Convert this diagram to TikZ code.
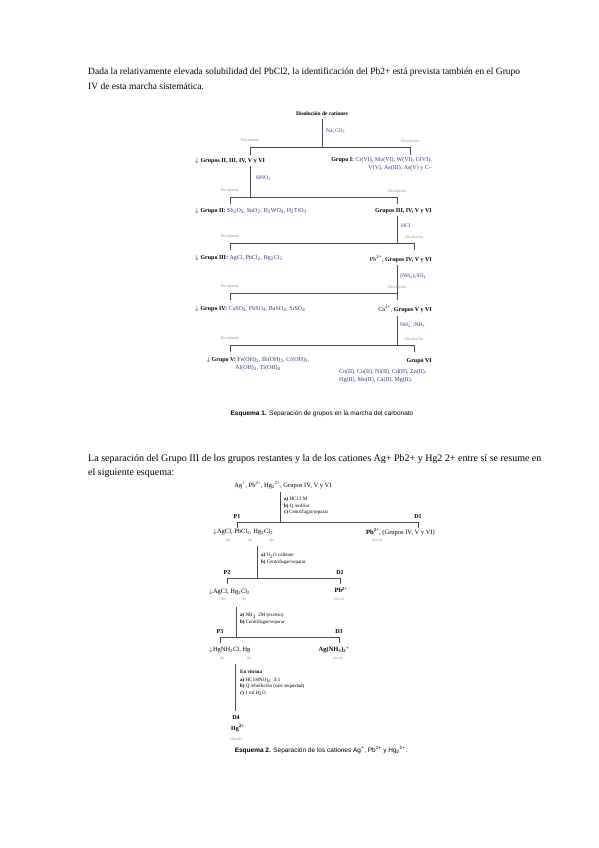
\documentclass[tikz,border=0pt]{standalone}
\usepackage{fontspec}
\setmainfont{Liberation Serif}
\newfontfamily\capfont{Liberation Sans}
\usepackage{tikz}
\usetikzlibrary{calc,positioning}
\definecolor{schblue}{HTML}{2B3B86}
\definecolor{schgray}{HTML}{8A8A8A}
\definecolor{schline}{HTML}{4A4A4A}
\newcommand{\fsz}[2]{\fontsize{#1}{#2}\selectfont}
\newcommand{\chsub}[1]{\textsubscript{#1}}
\newcommand{\chsup}[1]{\textsuperscript{#1}}

\begin{document}
\begin{tikzpicture}[x=1pt, y=-1pt,
    every node/.style={inner sep=0pt},
    bodytxt/.style={anchor=west, font=\fsz{9.5}{11}},
    s1txt/.style={font=\fsz{6}{8}},
    s1tag/.style={font=\fsz{4}{5}, text=schgray},
    s1reag/.style={anchor=west, font=\fsz{5.5}{6}, text=schblue},
    s2txt/.style={font=\fsz{6.5}{8}},
    s2reag/.style={anchor=north west, align=left, font=\fsz{5}{6.5}},
    s2tag/.style={font=\bfseries\fsz{6}{7}},
    s2note/.style={font=\fsz{3.8}{4.5}, text=schgray},
    captxt/.style={font=\capfont\fsz{6.5}{8}},
    tree/.style={draw=schline, line width=0.9pt}]
  \fill[white] (0,0) rectangle (599,848);
  \useasboundingbox (0,0) rectangle (599,848);

  % texto
  \node[bodytxt] (par1a) at (88,72) {Dada la relativamente elevada solubilidad del PbCl2, la identificación del Pb2+ está prevista también en el Grupo};
  \node[bodytxt] (par1b) at (88,86) {IV de esta marcha sistemática.};

  % esquema 1
  \node[s1txt, font=\bfseries\fsz{5.5}{7}] (s1dis) at (322,114) {Disolución de cationes};
  \coordinate (s1h1l) at (250,147);
  \coordinate (s1h1r) at (410,147);
  \draw[tree] ([yshift=-3pt]s1dis.south) -- (s1dis.south |- s1h1l);
  \draw[tree] ($(s1h1l)+(0,8)$) -- (s1h1l) -- (s1h1r) -- ($(s1h1r)+(0,8)$);
  \node[s1reag] (s1r1) at (326,131) {Na\chsub{2}CO\chsub{3}};
  \node[s1tag, above=4pt of s1h1l] (s1p1) {Precipitado};
  \node[s1tag, above=4pt of s1h1r] (s1d1) {Disolución};

  \node[s1txt, anchor=west] (s1g2) at (195,161) {$\downarrow$ \textbf{Grupos II, III, IV, V y VI}};
  \node[s1txt, anchor=north east, align=right] (s1g1) at (432,157)
    {\textbf{Grupo I:} \textcolor{schblue}{Cr(VI), Mo(VI), W(VI), U(VI),}\\ \textcolor{schblue}{V(V), As(III), As(V) y C–}};

  \coordinate (s1b) at (250,166);
  \coordinate (s1h2l) at (230,197);
  \coordinate (s1h2r) at (397,197);
  \draw[tree] (s1b) -- (s1b |- s1h2l);
  \draw[tree] ($(s1h2l)+(0,7)$) -- (s1h2l) -- (s1h2r) -- ($(s1h2r)+(0,7)$);
  \node[s1reag] (s1r2) at (256,178) {HNO\chsub{3}};
  \node[s1tag, above=4pt of s1h2l] (s1p2) {Precipitado};
  \node[s1tag, above=4pt of s1h2r] (s1d2) {Disolución};

  \node[s1txt, anchor=west] (s1gII) at (195,211) {$\downarrow$ \textbf{Grupo II:} \textcolor{schblue}{Sb\chsub{2}O\chsub{5}, SnO\chsub{2}, H\chsub{2}WO\chsub{4}, H\chsub{2}TiO\chsub{3}}};
  \node[s1txt, anchor=east] (s1rest2) at (432,211) {\textbf{Grupos III, IV, V y VI}};

  \coordinate (s1c) at (397,216);
  \coordinate (s1h3l) at (230,243);
  \coordinate (s1h3r) at (414,243);
  \draw[tree] (s1c) -- (s1c |- s1h3l);
  \draw[tree] ($(s1h3l)+(0,7)$) -- (s1h3l) -- (s1h3r) -- ($(s1h3r)+(0,7)$);
  \node[s1reag] (s1r3) at (401,226) {HCl};
  \node[s1tag, above=4pt of s1h3l] (s1p3) {Precipitado};
  \node[s1tag, above=4pt of s1h3r] (s1d3) {Disolución};

  \node[s1txt, anchor=west] (s1gIII) at (195,258) {$\downarrow$ \textbf{Grupo III:} \textcolor{schblue}{AgCl, PbCl\chsub{2}, Hg\chsub{2}Cl\chsub{2}}};
  \node[s1txt, anchor=east] (s1rest3) at (432,259) {Pb\chsup{2+}, \textbf{Grupos IV, V y VI}};

  \coordinate (s1d) at (397,265);
  \coordinate (s1h4l) at (230,293);
  \coordinate (s1h4r) at (397,293);
  \draw[tree] (s1d) -- (s1d |- s1h4l);
  \draw[tree] ($(s1h4l)+(0,7)$) -- (s1h4l) -- (s1h4r) -- ($(s1h4r)+(0,7)$);
  \node[s1reag] (s1r4) at (400,276) {(NH\chsub{4})\chsub{2}SO\chsub{4}};
  \node[s1tag, above=4pt of s1h4l] (s1p4) {Precipitado};
  \node[s1tag, above=4pt of s1h4r] (s1d4) {Disolución};

  \node[s1txt, anchor=west] (s1gIV) at (195,309) {$\downarrow$ \textbf{Grupo IV:} \textcolor{schblue}{CaSO\chsub{4}, PbSO\chsub{4}, BaSO\chsub{4}, SrSO\chsub{4}}};
  \node[s1txt, anchor=east] (s1rest4) at (432,309) {Ca\chsup{2+}, \textbf{Grupos V y VI}};

  \coordinate (s1e) at (397,316);
  \coordinate (s1h5l) at (230,345);
  \coordinate (s1h5r) at (414,345);
  \draw[tree] (s1e) -- (s1e |- s1h5l);
  \draw[tree] ($(s1h5l)+(0,7)$) -- (s1h5l) -- (s1h5r) -- ($(s1h5r)+(0,7)$);
  \node[s1reag] (s1r5) at (400,325) {NH\chsub{4}\chsup{+}/NH\chsub{3}};
  \node[s1tag, above=4pt of s1h5l] (s1p5) {Precipitado};
  \node[s1tag, above=4pt of s1h5r] (s1d5) {Disolución};

  \node[s1txt, anchor=north, align=center] (s1gV) at (258,357)
    {$\downarrow$ \textbf{Grupo V:} \textcolor{schblue}{Fe(OH)\chsub{3}, Bi(OH)\chsub{3}, Cr(OH)\chsub{3},}\\ \textcolor{schblue}{Al(OH)\chsub{3}, Ti(OH)\chsub{4}}};
  \node[s1txt, anchor=east] (s1gVI) at (432,361) {\textbf{Grupo VI}};
  \node[s1txt, anchor=north west, align=left, text=schblue] (s1gVIl) at (339,369)
    {Co(II), Cu(II), Ni(II), Cd(II), Zn(II),\\ Hg(II), Mn(II), Ca(II), Mg(II).};

  \node[captxt] (cap1) at (322,414) {\textbf{Esquema 1.} Separación de grupos en la marcha del carbonato};

  % texto
  \node[bodytxt, font=\fsz{10}{11}] (par2a) at (88,459) {La separación del Grupo III de los grupos restantes y la de los cationes Ag+ Pb2+ y Hg2 2+ entre sí se resume en};
  \node[bodytxt, font=\fsz{10}{11}] (par2b) at (88,473) {el siguiente esquema:};

  % esquema 2
  \node[s2txt] (s2top) at (283,485) {Ag\chsup{+}, Pb\chsup{2+}, Hg\chsub{2}\chsup{2+}, Grupos IV, V y VI};
  \coordinate (s2h1l) at (237,522);
  \coordinate (s2h1r) at (418,522);
  \coordinate (s2a) at (280,492);
  \draw[tree] (s2a) -- (s2a |- s2h1l);
  \draw[tree] ($(s2h1l)+(0,6)$) -- (s2h1l) -- (s2h1r) -- ($(s2h1r)+(0,6)$);
  \node[s2reag] (s2r1) at (284,497) {\textbf{a)} HCl 2 M\\ \textbf{b)} Q /enfriar\\ \textbf{c)} Centrifugar/separar};
  \node[s2tag, above=3pt of s2h1l] (s2P1) {P1};
  \node[s2tag, above=3pt of s2h1r] (s2D1) {D1};

  \node[s2txt, anchor=west] (s2pp1) at (213,532) {$\downarrow$AgCl, PbCl\chsub{2}, Hg\chsub{2}Cl\chsub{2}};
  \node[s2note] (s2b1) at (228,541) {(b)};
  \node[s2note] (s2b2) at (250,541) {(b)};
  \node[s2note] (s2b3) at (272,541) {(b)};
  \node[s2txt, anchor=west] (s2ds1) at (366,532) {\textbf{Pb\chsup{2+}}, (Grupos IV, V y VI)};
  \node[s2note] (s2i1) at (377,541) {(incol)};

  \coordinate (s2h2l) at (227,578);
  \coordinate (s2h2r) at (340,578);
  \coordinate (s2b) at (257,546);
  \draw[tree] (s2b) -- (s2b |- s2h2l);
  \draw[tree] ($(s2h2l)+(0,6)$) -- (s2h2l) -- (s2h2r) -- ($(s2h2r)+(0,6)$);
  \node[s2reag] (s2r2) at (261,553) {\textbf{a)} \textcolor{schblue}{H}\chsub{2}O caliente\\ \textbf{b)} Centrifugar/separar};
  \node[s2tag, above=3pt of s2h2l] (s2P2) {P2};
  \node[s2tag, above=3pt of s2h2r] (s2D2) {D2};

  \node[s2txt, anchor=west] (s2pp2) at (209,592) {$\downarrow$AgCl, Hg\chsub{2}Cl\chsub{2}};
  \node[s2note] (s2b4) at (223,600) {(b)};
  \node[s2note] (s2b5) at (244,600) {(b)};
  \node[s2txt] (s2ds2) at (341,590) {\textbf{Pb\chsup{2+}}};
  \node[s2note] (s2i2) at (339,600) {(incol)};

  \coordinate (s2h3l) at (220,637);
  \coordinate (s2h3r) at (339,637);
  \coordinate (s2c) at (236,607);
  \draw[tree] (s2c) -- (s2c |- s2h3l);
  \draw[tree] ($(s2h3l)+(0,6)$) -- (s2h3l) -- (s2h3r) -- ($(s2h3r)+(0,6)$);
  \node[s2reag] (s2r3) at (240,613) {\textbf{a)} NH\chsub{3}\ \ 2M (exceso)\\ \textbf{b)} Centrifugar/separar};
  \node[s2tag, above=3pt of s2h3l] (s2P3) {P3};
  \node[s2tag, above=3pt of s2h3r] (s2D3) {D3};

  \node[s2txt, anchor=west] (s2pp3) at (209,650) {$\downarrow$HgNH\chsub{2}Cl, Hg};
  \node[s2note] (s2b6) at (222,659) {(b)};
  \node[s2note] (s2b7) at (249,659) {(b)};
  \node[s2txt] (s2ds3) at (334,650) {\textbf{Ag(NH\chsub{3})\chsub{2}\chsup{+}}};
  \node[s2note] (s2i3) at (338,659) {(incol)};

  \coordinate (s2d) at (235,664);
  \coordinate (s2e) at (235,711);
  \draw[tree] (s2d) -- (s2e);
  \node[s2reag] (s2r4) at (240,670) {\textbf{En vitrina}\\[1pt] \textbf{a)} HCl:HNO\chsub{3c}\ \ 3:1\\ \textbf{b)} Q /ebullición (casi sequedad)\\ \textbf{c)} 1 ml H\chsub{2}O};
  \node[s2tag] (s2D4) at (236,718) {D4};
  \node[s2tag] (s2ds4) at (238,728) {Hg\chsup{2+}};
  \node[s2note, font=\fsz{4.5}{5}] (s2i4) at (236,739) {(incol)};

  \node[captxt] (cap2) at (321,750) {\textbf{Esquema 2.} Separación de los cationes Ag\chsup{+}, Pb\chsup{2+} y Hg\chsub{2}\chsup{2+}.};
\end{tikzpicture}
\end{document}
